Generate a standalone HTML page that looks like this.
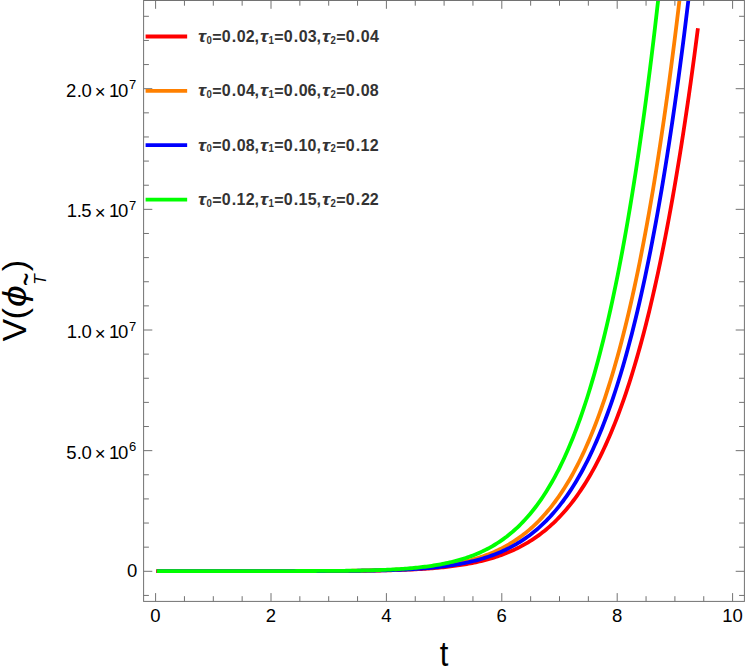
<!DOCTYPE html>
<html><head><meta charset="utf-8"><title>plot</title>
<style>
html,body{margin:0;padding:0;background:#fff;}
body{width:747px;height:667px;overflow:hidden;}
svg{display:block;font-family:"Liberation Sans",sans-serif;}
</style></head><body>
<svg width="747" height="667" viewBox="0 0 747 667">
<rect x="0" y="0" width="747" height="667" fill="#ffffff"/>
<defs><clipPath id="cp"><rect x="143.60" y="0.50" width="600.80" height="600.90"/></clipPath></defs>
<g clip-path="url(#cp)">
<path d="M156.12,571.05 L157.92,571.05 L159.73,571.05 L161.53,571.05 L163.34,571.05 L165.15,571.05 L166.95,571.05 L168.76,571.05 L170.56,571.05 L172.37,571.05 L174.18,571.05 L175.98,571.05 L177.79,571.05 L179.59,571.05 L181.40,571.05 L183.21,571.05 L185.01,571.05 L186.82,571.05 L188.62,571.05 L190.43,571.05 L192.24,571.05 L194.04,571.05 L195.85,571.05 L197.65,571.05 L199.46,571.05 L201.27,571.05 L203.07,571.05 L204.88,571.05 L206.68,571.05 L208.49,571.05 L210.30,571.05 L212.10,571.05 L213.91,571.05 L215.71,571.05 L217.52,571.05 L219.33,571.05 L221.13,571.05 L222.94,571.05 L224.74,571.05 L226.55,571.05 L228.36,571.05 L230.16,571.05 L231.97,571.05 L233.77,571.05 L235.58,571.05 L237.39,571.05 L239.19,571.05 L241.00,571.05 L242.80,571.05 L244.61,571.05 L246.42,571.05 L248.22,571.05 L250.03,571.05 L251.83,571.05 L253.64,571.05 L255.45,571.05 L257.25,571.05 L259.06,571.05 L260.86,571.05 L262.67,571.05 L264.48,571.05 L266.28,571.05 L268.09,571.05 L269.89,571.05 L271.70,571.05 L273.51,571.05 L275.31,571.05 L277.12,571.05 L278.92,571.05 L280.73,571.04 L282.54,571.04 L284.34,571.04 L286.15,571.04 L287.95,571.04 L289.76,571.04 L291.57,571.04 L293.37,571.04 L295.18,571.04 L296.98,571.04 L298.79,571.03 L300.60,571.03 L302.40,571.03 L304.21,571.03 L306.01,571.03 L307.82,571.02 L309.63,571.02 L311.43,571.02 L313.24,571.02 L315.04,571.01 L316.85,571.01 L318.66,571.01 L320.46,571.00 L322.27,571.00 L324.07,570.99 L325.88,570.99 L327.69,570.98 L329.49,570.98 L331.30,570.97 L333.10,570.96 L334.91,570.96 L336.72,570.95 L338.52,570.94 L340.33,570.93 L342.13,570.92 L343.94,570.91 L345.75,570.90 L347.55,570.89 L349.36,570.88 L351.16,570.87 L352.97,570.85 L354.78,570.84 L356.58,570.82 L358.39,570.80 L360.19,570.79 L362.00,570.77 L363.81,570.75 L365.61,570.73 L367.42,570.71 L369.22,570.68 L371.03,570.66 L372.84,570.63 L374.64,570.60 L376.45,570.57 L378.25,570.54 L380.06,570.51 L381.87,570.47 L383.67,570.43 L385.48,570.40 L387.28,570.35 L389.09,570.31 L390.90,570.26 L392.70,570.22 L394.51,570.16 L396.31,570.11 L398.12,570.05 L399.93,569.99 L401.73,569.93 L403.54,569.87 L405.34,569.80 L407.15,569.72 L408.96,569.65 L410.76,569.57 L412.57,569.48 L414.37,569.39 L416.18,569.30 L417.99,569.20 L419.79,569.10 L421.60,569.00 L423.40,568.88 L425.21,568.77 L427.02,568.64 L428.82,568.52 L430.63,568.38 L432.43,568.24 L434.24,568.09 L436.05,567.94 L437.85,567.78 L439.66,567.61 L441.46,567.44 L443.27,567.26 L445.08,567.07 L446.88,566.87 L448.69,566.66 L450.50,566.44 L452.30,566.22 L454.11,565.98 L455.91,565.74 L457.72,565.48 L459.53,565.22 L461.33,564.94 L463.14,564.65 L464.94,564.35 L466.75,564.04 L468.56,563.71 L470.36,563.37 L472.17,563.02 L473.97,562.66 L475.78,562.28 L477.59,561.88 L479.39,561.47 L481.20,561.05 L483.00,560.60 L484.81,560.14 L486.62,559.67 L488.42,559.17 L490.23,558.66 L492.03,558.12 L493.84,557.57 L495.65,557.00 L497.45,556.40 L499.26,555.78 L501.06,555.14 L502.87,554.48 L504.68,553.79 L506.48,553.08 L508.29,552.35 L510.09,551.58 L511.90,550.79 L513.71,549.98 L515.51,549.13 L517.32,548.25 L519.12,547.35 L520.93,546.41 L522.74,545.44 L524.54,544.44 L526.35,543.40 L528.15,542.33 L529.96,541.22 L531.77,540.07 L533.57,538.89 L535.38,537.67 L537.18,536.40 L538.99,535.10 L540.80,533.75 L542.60,532.36 L544.41,530.92 L546.21,529.44 L548.02,527.91 L549.83,526.33 L551.63,524.70 L553.44,523.02 L555.24,521.29 L557.05,519.50 L558.86,517.66 L560.66,515.76 L562.47,513.80 L564.27,511.78 L566.08,509.70 L567.89,507.55 L569.69,505.34 L571.50,503.07 L573.30,500.72 L575.11,498.31 L576.92,495.82 L578.72,493.26 L580.53,490.62 L582.33,487.90 L584.14,485.11 L585.95,482.23 L587.75,479.27 L589.56,476.23 L591.36,473.10 L593.17,469.87 L594.98,466.56 L596.78,463.15 L598.59,459.64 L600.39,456.04 L602.20,452.33 L604.01,448.52 L605.81,444.61 L607.62,440.58 L609.42,436.45 L611.23,432.20 L613.04,427.83 L614.84,423.34 L616.65,418.74 L618.45,414.00 L620.26,409.14 L622.07,404.15 L623.87,399.03 L625.68,393.76 L627.48,388.36 L629.29,382.82 L631.10,377.13 L632.90,371.29 L634.71,365.30 L636.51,359.15 L638.32,352.84 L640.13,346.37 L641.93,339.73 L643.74,332.92 L645.54,325.94 L647.35,318.78 L649.16,311.43 L650.96,303.90 L652.77,296.19 L654.57,288.27 L656.38,280.16 L658.19,271.85 L659.99,263.33 L661.80,254.61 L663.60,245.66 L665.41,236.50 L667.22,227.11 L669.02,217.49 L670.83,207.64 L672.63,197.55 L674.44,187.22 L676.25,176.64 L678.05,165.80 L679.86,154.71 L681.66,143.35 L683.47,131.73 L685.28,119.83 L687.08,107.64 L688.89,95.18 L690.69,82.42 L692.50,69.36 L694.31,56.00 L696.11,42.33 L697.92,28.35" fill="none" stroke="#ff0000" stroke-width="3.8" stroke-linejoin="round"/>
<path d="M156.81,571.05 L158.65,571.05 L160.50,571.05 L162.34,571.05 L164.18,571.05 L166.03,571.05 L167.87,571.05 L169.71,571.05 L171.56,571.05 L173.40,571.05 L175.24,571.05 L177.09,571.05 L178.93,571.05 L180.78,571.05 L182.62,571.05 L184.46,571.05 L186.31,571.05 L188.15,571.05 L189.99,571.05 L191.84,571.05 L193.68,571.05 L195.53,571.05 L197.37,571.05 L199.21,571.05 L201.06,571.05 L202.90,571.05 L204.74,571.05 L206.59,571.05 L208.43,571.05 L210.28,571.05 L212.12,571.05 L213.96,571.05 L215.81,571.05 L217.65,571.05 L219.49,571.05 L221.34,571.05 L223.18,571.05 L225.02,571.05 L226.87,571.05 L228.71,571.05 L230.56,571.05 L232.40,571.05 L234.24,571.05 L236.09,571.05 L237.93,571.05 L239.77,571.05 L241.62,571.05 L243.46,571.05 L245.31,571.05 L247.15,571.05 L248.99,571.05 L250.84,571.05 L252.68,571.05 L254.52,571.05 L256.37,571.05 L258.21,571.05 L260.06,571.05 L261.90,571.05 L263.74,571.05 L265.59,571.05 L267.43,571.05 L269.27,571.05 L271.12,571.05 L272.96,571.04 L274.81,571.04 L276.65,571.04 L278.49,571.04 L280.34,571.04 L282.18,571.04 L284.02,571.04 L285.87,571.04 L287.71,571.04 L289.55,571.04 L291.40,571.03 L293.24,571.03 L295.09,571.03 L296.93,571.03 L298.77,571.03 L300.62,571.02 L302.46,571.02 L304.30,571.02 L306.15,571.02 L307.99,571.01 L309.84,571.01 L311.68,571.00 L313.52,571.00 L315.37,570.99 L317.21,570.99 L319.05,570.98 L320.90,570.98 L322.74,570.97 L324.59,570.96 L326.43,570.96 L328.27,570.95 L330.12,570.94 L331.96,570.93 L333.80,570.92 L335.65,570.91 L337.49,570.90 L339.33,570.89 L341.18,570.87 L343.02,570.86 L344.87,570.84 L346.71,570.83 L348.55,570.81 L350.40,570.79 L352.24,570.77 L354.08,570.75 L355.93,570.73 L357.77,570.70 L359.62,570.68 L361.46,570.65 L363.30,570.62 L365.15,570.59 L366.99,570.56 L368.83,570.53 L370.68,570.49 L372.52,570.45 L374.37,570.41 L376.21,570.37 L378.05,570.32 L379.90,570.27 L381.74,570.22 L383.58,570.17 L385.43,570.11 L387.27,570.05 L389.11,569.99 L390.96,569.92 L392.80,569.85 L394.65,569.77 L396.49,569.70 L398.33,569.61 L400.18,569.53 L402.02,569.43 L403.86,569.34 L405.71,569.24 L407.55,569.13 L409.40,569.02 L411.24,568.90 L413.08,568.77 L414.93,568.64 L416.77,568.51 L418.61,568.37 L420.46,568.22 L422.30,568.06 L424.15,567.89 L425.99,567.72 L427.83,567.54 L429.68,567.35 L431.52,567.15 L433.36,566.95 L435.21,566.73 L437.05,566.50 L438.90,566.26 L440.74,566.02 L442.58,565.76 L444.43,565.49 L446.27,565.21 L448.11,564.91 L449.96,564.60 L451.80,564.28 L453.64,563.95 L455.49,563.60 L457.33,563.23 L459.18,562.85 L461.02,562.46 L462.86,562.05 L464.71,561.62 L466.55,561.17 L468.39,560.71 L470.24,560.22 L472.08,559.72 L473.93,559.20 L475.77,558.65 L477.61,558.08 L479.46,557.50 L481.30,556.88 L483.14,556.25 L484.99,555.59 L486.83,554.90 L488.68,554.19 L490.52,553.45 L492.36,552.68 L494.21,551.88 L496.05,551.06 L497.89,550.20 L499.74,549.31 L501.58,548.39 L503.42,547.43 L505.27,546.44 L507.11,545.41 L508.96,544.35 L510.80,543.24 L512.64,542.10 L514.49,540.92 L516.33,539.69 L518.17,538.42 L520.02,537.11 L521.86,535.75 L523.71,534.34 L525.55,532.89 L527.39,531.39 L529.24,529.83 L531.08,528.22 L532.92,526.56 L534.77,524.84 L536.61,523.06 L538.46,521.23 L540.30,519.33 L542.14,517.37 L543.99,515.34 L545.83,513.25 L547.67,511.10 L549.52,508.87 L551.36,506.57 L553.20,504.19 L555.05,501.75 L556.89,499.22 L558.74,496.61 L560.58,493.92 L562.42,491.15 L564.27,488.29 L566.11,485.34 L567.95,482.30 L569.80,479.17 L571.64,475.94 L573.49,472.61 L575.33,469.18 L577.17,465.65 L579.02,462.01 L580.86,458.26 L582.70,454.40 L584.55,450.43 L586.39,446.34 L588.24,442.12 L590.08,437.79 L591.92,433.33 L593.77,428.74 L595.61,424.01 L597.45,419.15 L599.30,414.15 L601.14,409.01 L602.98,403.72 L604.83,398.28 L606.67,392.69 L608.52,386.94 L610.36,381.03 L612.20,374.96 L614.05,368.72 L615.89,362.30 L617.73,355.71 L619.58,348.94 L621.42,341.98 L623.27,334.84 L625.11,327.50 L626.95,319.96 L628.80,312.22 L630.64,304.27 L632.48,296.11 L634.33,287.74 L636.17,279.14 L638.02,270.32 L639.86,261.27 L641.70,251.97 L643.55,242.44 L645.39,232.66 L647.23,222.63 L649.08,212.34 L650.92,201.78 L652.77,190.96 L654.61,179.86 L656.45,168.48 L658.30,156.81 L660.14,144.85 L661.98,132.59 L663.83,120.02 L665.67,107.14 L667.51,93.94 L669.36,80.41 L671.20,66.55 L673.05,52.35 L674.89,37.81 L676.73,22.91 L678.58,7.65 L680.42,-7.99 L682.26,-23.99 L684.11,-40.38 L685.95,-57.17 L687.80,-74.35 L689.64,-91.94 L691.48,-109.95 L693.33,-128.38 L695.17,-147.25 L697.01,-166.55 L698.86,-186.31 L700.70,-206.53 L702.55,-227.22 L704.39,-248.38 L706.23,-270.03 L708.08,-292.18 L709.92,-314.83" fill="none" stroke="#ff8000" stroke-width="3.8" stroke-linejoin="round"/>
<path d="M156.81,571.05 L158.67,571.05 L160.53,571.05 L162.40,571.05 L164.26,571.05 L166.12,571.05 L167.99,571.05 L169.85,571.05 L171.71,571.05 L173.57,571.05 L175.44,571.05 L177.30,571.05 L179.16,571.05 L181.03,571.05 L182.89,571.05 L184.75,571.05 L186.61,571.05 L188.48,571.05 L190.34,571.05 L192.20,571.05 L194.07,571.05 L195.93,571.05 L197.79,571.05 L199.66,571.05 L201.52,571.05 L203.38,571.05 L205.24,571.05 L207.11,571.05 L208.97,571.05 L210.83,571.05 L212.70,571.05 L214.56,571.05 L216.42,571.05 L218.28,571.05 L220.15,571.05 L222.01,571.05 L223.87,571.05 L225.74,571.05 L227.60,571.05 L229.46,571.05 L231.33,571.05 L233.19,571.05 L235.05,571.05 L236.91,571.05 L238.78,571.05 L240.64,571.05 L242.50,571.05 L244.37,571.05 L246.23,571.05 L248.09,571.05 L249.95,571.05 L251.82,571.05 L253.68,571.05 L255.54,571.05 L257.41,571.05 L259.27,571.05 L261.13,571.05 L263.00,571.05 L264.86,571.05 L266.72,571.05 L268.58,571.05 L270.45,571.05 L272.31,571.05 L274.17,571.05 L276.04,571.05 L277.90,571.04 L279.76,571.04 L281.62,571.04 L283.49,571.04 L285.35,571.04 L287.21,571.04 L289.08,571.04 L290.94,571.04 L292.80,571.04 L294.67,571.03 L296.53,571.03 L298.39,571.03 L300.25,571.03 L302.12,571.03 L303.98,571.02 L305.84,571.02 L307.71,571.02 L309.57,571.02 L311.43,571.01 L313.29,571.01 L315.16,571.00 L317.02,571.00 L318.88,571.00 L320.75,570.99 L322.61,570.99 L324.47,570.98 L326.34,570.97 L328.20,570.97 L330.06,570.96 L331.92,570.95 L333.79,570.94 L335.65,570.93 L337.51,570.92 L339.38,570.91 L341.24,570.90 L343.10,570.89 L344.96,570.88 L346.83,570.86 L348.69,570.85 L350.55,570.83 L352.42,570.82 L354.28,570.80 L356.14,570.78 L358.01,570.76 L359.87,570.74 L361.73,570.71 L363.59,570.69 L365.46,570.66 L367.32,570.63 L369.18,570.60 L371.05,570.57 L372.91,570.54 L374.77,570.51 L376.63,570.47 L378.50,570.43 L380.36,570.39 L382.22,570.34 L384.09,570.30 L385.95,570.25 L387.81,570.19 L389.68,570.14 L391.54,570.08 L393.40,570.02 L395.26,569.95 L397.13,569.88 L398.99,569.81 L400.85,569.74 L402.72,569.66 L404.58,569.57 L406.44,569.48 L408.30,569.39 L410.17,569.29 L412.03,569.19 L413.89,569.08 L415.76,568.96 L417.62,568.84 L419.48,568.72 L421.35,568.59 L423.21,568.45 L425.07,568.30 L426.93,568.15 L428.80,567.99 L430.66,567.82 L432.52,567.65 L434.39,567.46 L436.25,567.27 L438.11,567.07 L439.97,566.86 L441.84,566.64 L443.70,566.41 L445.56,566.17 L447.43,565.92 L449.29,565.66 L451.15,565.38 L453.02,565.10 L454.88,564.80 L456.74,564.49 L458.60,564.16 L460.47,563.82 L462.33,563.47 L464.19,563.10 L466.06,562.72 L467.92,562.32 L469.78,561.90 L471.64,561.47 L473.51,561.02 L475.37,560.55 L477.23,560.06 L479.10,559.55 L480.96,559.03 L482.82,558.48 L484.69,557.90 L486.55,557.31 L488.41,556.69 L490.27,556.05 L492.14,555.39 L494.00,554.69 L495.86,553.98 L497.73,553.23 L499.59,552.46 L501.45,551.65 L503.31,550.82 L505.18,549.95 L507.04,549.06 L508.90,548.13 L510.77,547.17 L512.63,546.17 L514.49,545.13 L516.36,544.06 L518.22,542.95 L520.08,541.80 L521.94,540.61 L523.81,539.38 L525.67,538.10 L527.53,536.78 L529.40,535.41 L531.26,534.00 L533.12,532.53 L534.98,531.02 L536.85,529.46 L538.71,527.84 L540.57,526.17 L542.44,524.44 L544.30,522.65 L546.16,520.80 L548.03,518.90 L549.89,516.93 L551.75,514.89 L553.61,512.79 L555.48,510.62 L557.34,508.39 L559.20,506.07 L561.07,503.69 L562.93,501.23 L564.79,498.69 L566.65,496.07 L568.52,493.37 L570.38,490.58 L572.24,487.71 L574.11,484.75 L575.97,481.70 L577.83,478.55 L579.70,475.30 L581.56,471.96 L583.42,468.52 L585.28,464.97 L587.15,461.32 L589.01,457.56 L590.87,453.68 L592.74,449.69 L594.60,445.58 L596.46,441.36 L598.32,437.00 L600.19,432.53 L602.05,427.92 L603.91,423.17 L605.78,418.30 L607.64,413.28 L609.50,408.12 L611.37,402.81 L613.23,397.35 L615.09,391.74 L616.95,385.97 L618.82,380.04 L620.68,373.94 L622.54,367.68 L624.41,361.24 L626.27,354.63 L628.13,347.83 L629.99,340.85 L631.86,333.68 L633.72,326.31 L635.58,318.75 L637.45,310.98 L639.31,303.01 L641.17,294.82 L643.04,286.42 L644.90,277.80 L646.76,268.94 L648.62,259.86 L650.49,250.54 L652.35,240.97 L654.21,231.16 L656.08,221.09 L657.94,210.77 L659.80,200.18 L661.66,189.31 L663.53,178.18 L665.39,166.76 L667.25,155.05 L669.12,143.05 L670.98,130.75 L672.84,118.13 L674.71,105.21 L676.57,91.97 L678.43,78.39 L680.29,64.49 L682.16,50.24 L684.02,35.65 L685.88,20.69 L687.75,5.38 L689.61,-10.30 L691.47,-26.37 L693.33,-42.81 L695.20,-59.65 L697.06,-76.90 L698.92,-94.55 L700.79,-112.62 L702.65,-131.12 L704.51,-150.05 L706.38,-169.42 L708.24,-189.25 L710.10,-209.54 L711.96,-230.30 L713.83,-251.54 L715.69,-273.27" fill="none" stroke="#0000ff" stroke-width="3.8" stroke-linejoin="round"/>
<path d="M156.81,571.05 L158.59,571.05 L160.38,571.05 L162.17,571.05 L163.95,571.05 L165.74,571.05 L167.52,571.05 L169.31,571.05 L171.10,571.05 L172.88,571.05 L174.67,571.05 L176.45,571.05 L178.24,571.05 L180.03,571.05 L181.81,571.05 L183.60,571.05 L185.38,571.05 L187.17,571.05 L188.96,571.05 L190.74,571.05 L192.53,571.05 L194.31,571.05 L196.10,571.05 L197.89,571.05 L199.67,571.05 L201.46,571.05 L203.24,571.05 L205.03,571.05 L206.82,571.05 L208.60,571.05 L210.39,571.05 L212.17,571.05 L213.96,571.05 L215.75,571.05 L217.53,571.05 L219.32,571.05 L221.10,571.05 L222.89,571.05 L224.68,571.05 L226.46,571.05 L228.25,571.05 L230.03,571.05 L231.82,571.05 L233.61,571.05 L235.39,571.05 L237.18,571.05 L238.96,571.05 L240.75,571.05 L242.54,571.05 L244.32,571.05 L246.11,571.05 L247.89,571.05 L249.68,571.05 L251.47,571.05 L253.25,571.05 L255.04,571.05 L256.82,571.05 L258.61,571.05 L260.40,571.05 L262.18,571.05 L263.97,571.05 L265.75,571.05 L267.54,571.05 L269.33,571.04 L271.11,571.04 L272.90,571.04 L274.68,571.04 L276.47,571.04 L278.26,571.04 L280.04,571.04 L281.83,571.04 L283.61,571.04 L285.40,571.04 L287.19,571.03 L288.97,571.03 L290.76,571.03 L292.54,571.03 L294.33,571.03 L296.12,571.02 L297.90,571.02 L299.69,571.02 L301.47,571.01 L303.26,571.01 L305.05,571.01 L306.83,571.00 L308.62,571.00 L310.40,570.99 L312.19,570.99 L313.98,570.98 L315.76,570.98 L317.55,570.97 L319.33,570.96 L321.12,570.95 L322.91,570.95 L324.69,570.94 L326.48,570.93 L328.26,570.92 L330.05,570.91 L331.84,570.89 L333.62,570.88 L335.41,570.87 L337.19,570.85 L338.98,570.84 L340.77,570.82 L342.55,570.80 L344.34,570.78 L346.12,570.76 L347.91,570.74 L349.70,570.72 L351.48,570.69 L353.27,570.67 L355.05,570.64 L356.84,570.61 L358.63,570.58 L360.41,570.54 L362.20,570.51 L363.98,570.47 L365.77,570.43 L367.56,570.39 L369.34,570.34 L371.13,570.30 L372.91,570.25 L374.70,570.19 L376.49,570.14 L378.27,570.08 L380.06,570.01 L381.84,569.95 L383.63,569.88 L385.42,569.80 L387.20,569.72 L388.99,569.64 L390.77,569.56 L392.56,569.46 L394.35,569.37 L396.13,569.27 L397.92,569.16 L399.70,569.05 L401.49,568.93 L403.28,568.81 L405.06,568.68 L406.85,568.54 L408.63,568.40 L410.42,568.25 L412.21,568.09 L413.99,567.93 L415.78,567.75 L417.56,567.57 L419.35,567.38 L421.14,567.18 L422.92,566.97 L424.71,566.75 L426.49,566.53 L428.28,566.29 L430.07,566.04 L431.85,565.78 L433.64,565.50 L435.42,565.22 L437.21,564.92 L439.00,564.61 L440.78,564.28 L442.57,563.95 L444.35,563.59 L446.14,563.22 L447.93,562.84 L449.71,562.44 L451.50,562.02 L453.29,561.58 L455.07,561.13 L456.86,560.66 L458.64,560.16 L460.43,559.65 L462.22,559.12 L464.00,558.56 L465.79,557.98 L467.57,557.38 L469.36,556.76 L471.15,556.11 L472.93,555.43 L474.72,554.73 L476.50,554.00 L478.29,553.25 L480.08,552.46 L481.86,551.64 L483.65,550.80 L485.43,549.92 L487.22,549.01 L489.01,548.06 L490.79,547.08 L492.58,546.06 L494.36,545.00 L496.15,543.91 L497.94,542.77 L499.72,541.60 L501.51,540.38 L503.29,539.12 L505.08,537.81 L506.87,536.46 L508.65,535.05 L510.44,533.60 L512.22,532.10 L514.01,530.55 L515.80,528.94 L517.58,527.28 L519.37,525.56 L521.15,523.78 L522.94,521.94 L524.73,520.04 L526.51,518.08 L528.30,516.05 L530.08,513.95 L531.87,511.79 L533.66,509.55 L535.44,507.24 L537.23,504.85 L539.01,502.38 L540.80,499.84 L542.59,497.21 L544.37,494.50 L546.16,491.71 L547.94,488.82 L549.73,485.85 L551.52,482.78 L553.30,479.61 L555.09,476.35 L556.87,472.98 L558.66,469.51 L560.45,465.94 L562.23,462.25 L564.02,458.46 L565.80,454.54 L567.59,450.51 L569.38,446.36 L571.16,442.09 L572.95,437.68 L574.73,433.15 L576.52,428.48 L578.31,423.68 L580.09,418.74 L581.88,413.65 L583.66,408.41 L585.45,403.02 L587.24,397.48 L589.02,391.78 L590.81,385.91 L592.59,379.88 L594.38,373.68 L596.17,367.31 L597.95,360.75 L599.74,354.01 L601.52,347.09 L603.31,339.97 L605.10,332.66 L606.88,325.14 L608.67,317.42 L610.45,309.49 L612.24,301.34 L614.03,292.97 L615.81,284.38 L617.60,275.56 L619.38,266.50 L621.17,257.20 L622.96,247.65 L624.74,237.85 L626.53,227.79 L628.31,217.47 L630.10,206.88 L631.89,196.01 L633.67,184.86 L635.46,173.42 L637.24,161.69 L639.03,149.66 L640.82,137.32 L642.60,124.67 L644.39,111.70 L646.17,98.39 L647.96,84.76 L649.75,70.78 L651.53,56.45 L653.32,41.77 L655.10,26.72 L656.89,11.30 L658.68,-4.49 L660.46,-20.68 L662.25,-37.26 L664.03,-54.25 L665.82,-71.65 L667.61,-89.46 L669.39,-107.71 L671.18,-126.40 L672.96,-145.53 L674.75,-165.12 L676.54,-185.18 L678.32,-205.70 L680.11,-226.72 L681.89,-248.23 L683.68,-270.24 L685.47,-292.76 L687.25,-315.81 L689.04,-339.40 L690.82,-363.53 L692.61,-388.21" fill="none" stroke="#00ff00" stroke-width="3.8" stroke-linejoin="round"/>
</g>
<g stroke="#727272" stroke-width="1" fill="none">
<rect x="143.60" y="0.50" width="600.80" height="600.90"/>
<line x1="155.60" y1="601.40" x2="155.60" y2="593.10"/>
<line x1="155.60" y1="0.50" x2="155.60" y2="8.80"/>
<line x1="184.45" y1="601.40" x2="184.45" y2="596.20"/>
<line x1="184.45" y1="0.50" x2="184.45" y2="5.70"/>
<line x1="213.30" y1="601.40" x2="213.30" y2="596.20"/>
<line x1="213.30" y1="0.50" x2="213.30" y2="5.70"/>
<line x1="242.15" y1="601.40" x2="242.15" y2="596.20"/>
<line x1="242.15" y1="0.50" x2="242.15" y2="5.70"/>
<line x1="271.00" y1="601.40" x2="271.00" y2="593.10"/>
<line x1="271.00" y1="0.50" x2="271.00" y2="8.80"/>
<line x1="299.85" y1="601.40" x2="299.85" y2="596.20"/>
<line x1="299.85" y1="0.50" x2="299.85" y2="5.70"/>
<line x1="328.70" y1="601.40" x2="328.70" y2="596.20"/>
<line x1="328.70" y1="0.50" x2="328.70" y2="5.70"/>
<line x1="357.55" y1="601.40" x2="357.55" y2="596.20"/>
<line x1="357.55" y1="0.50" x2="357.55" y2="5.70"/>
<line x1="386.40" y1="601.40" x2="386.40" y2="593.10"/>
<line x1="386.40" y1="0.50" x2="386.40" y2="8.80"/>
<line x1="415.25" y1="601.40" x2="415.25" y2="596.20"/>
<line x1="415.25" y1="0.50" x2="415.25" y2="5.70"/>
<line x1="444.10" y1="601.40" x2="444.10" y2="596.20"/>
<line x1="444.10" y1="0.50" x2="444.10" y2="5.70"/>
<line x1="472.95" y1="601.40" x2="472.95" y2="596.20"/>
<line x1="472.95" y1="0.50" x2="472.95" y2="5.70"/>
<line x1="501.80" y1="601.40" x2="501.80" y2="593.10"/>
<line x1="501.80" y1="0.50" x2="501.80" y2="8.80"/>
<line x1="530.65" y1="601.40" x2="530.65" y2="596.20"/>
<line x1="530.65" y1="0.50" x2="530.65" y2="5.70"/>
<line x1="559.50" y1="601.40" x2="559.50" y2="596.20"/>
<line x1="559.50" y1="0.50" x2="559.50" y2="5.70"/>
<line x1="588.35" y1="601.40" x2="588.35" y2="596.20"/>
<line x1="588.35" y1="0.50" x2="588.35" y2="5.70"/>
<line x1="617.20" y1="601.40" x2="617.20" y2="593.10"/>
<line x1="617.20" y1="0.50" x2="617.20" y2="8.80"/>
<line x1="646.05" y1="601.40" x2="646.05" y2="596.20"/>
<line x1="646.05" y1="0.50" x2="646.05" y2="5.70"/>
<line x1="674.90" y1="601.40" x2="674.90" y2="596.20"/>
<line x1="674.90" y1="0.50" x2="674.90" y2="5.70"/>
<line x1="703.75" y1="601.40" x2="703.75" y2="596.20"/>
<line x1="703.75" y1="0.50" x2="703.75" y2="5.70"/>
<line x1="732.60" y1="601.40" x2="732.60" y2="593.10"/>
<line x1="732.60" y1="0.50" x2="732.60" y2="8.80"/>
<line x1="143.60" y1="595.43" x2="148.90" y2="595.43"/>
<line x1="744.40" y1="595.43" x2="739.10" y2="595.43"/>
<line x1="143.60" y1="571.30" x2="152.30" y2="571.30"/>
<line x1="744.40" y1="571.30" x2="735.70" y2="571.30"/>
<line x1="143.60" y1="547.17" x2="148.90" y2="547.17"/>
<line x1="744.40" y1="547.17" x2="739.10" y2="547.17"/>
<line x1="143.60" y1="523.04" x2="148.90" y2="523.04"/>
<line x1="744.40" y1="523.04" x2="739.10" y2="523.04"/>
<line x1="143.60" y1="498.91" x2="148.90" y2="498.91"/>
<line x1="744.40" y1="498.91" x2="739.10" y2="498.91"/>
<line x1="143.60" y1="474.78" x2="148.90" y2="474.78"/>
<line x1="744.40" y1="474.78" x2="739.10" y2="474.78"/>
<line x1="143.60" y1="450.65" x2="152.30" y2="450.65"/>
<line x1="744.40" y1="450.65" x2="735.70" y2="450.65"/>
<line x1="143.60" y1="426.52" x2="148.90" y2="426.52"/>
<line x1="744.40" y1="426.52" x2="739.10" y2="426.52"/>
<line x1="143.60" y1="402.39" x2="148.90" y2="402.39"/>
<line x1="744.40" y1="402.39" x2="739.10" y2="402.39"/>
<line x1="143.60" y1="378.26" x2="148.90" y2="378.26"/>
<line x1="744.40" y1="378.26" x2="739.10" y2="378.26"/>
<line x1="143.60" y1="354.13" x2="148.90" y2="354.13"/>
<line x1="744.40" y1="354.13" x2="739.10" y2="354.13"/>
<line x1="143.60" y1="330.00" x2="152.30" y2="330.00"/>
<line x1="744.40" y1="330.00" x2="735.70" y2="330.00"/>
<line x1="143.60" y1="305.87" x2="148.90" y2="305.87"/>
<line x1="744.40" y1="305.87" x2="739.10" y2="305.87"/>
<line x1="143.60" y1="281.74" x2="148.90" y2="281.74"/>
<line x1="744.40" y1="281.74" x2="739.10" y2="281.74"/>
<line x1="143.60" y1="257.61" x2="148.90" y2="257.61"/>
<line x1="744.40" y1="257.61" x2="739.10" y2="257.61"/>
<line x1="143.60" y1="233.48" x2="148.90" y2="233.48"/>
<line x1="744.40" y1="233.48" x2="739.10" y2="233.48"/>
<line x1="143.60" y1="209.35" x2="152.30" y2="209.35"/>
<line x1="744.40" y1="209.35" x2="735.70" y2="209.35"/>
<line x1="143.60" y1="185.22" x2="148.90" y2="185.22"/>
<line x1="744.40" y1="185.22" x2="739.10" y2="185.22"/>
<line x1="143.60" y1="161.09" x2="148.90" y2="161.09"/>
<line x1="744.40" y1="161.09" x2="739.10" y2="161.09"/>
<line x1="143.60" y1="136.96" x2="148.90" y2="136.96"/>
<line x1="744.40" y1="136.96" x2="739.10" y2="136.96"/>
<line x1="143.60" y1="112.83" x2="148.90" y2="112.83"/>
<line x1="744.40" y1="112.83" x2="739.10" y2="112.83"/>
<line x1="143.60" y1="88.70" x2="152.30" y2="88.70"/>
<line x1="744.40" y1="88.70" x2="735.70" y2="88.70"/>
<line x1="143.60" y1="64.57" x2="148.90" y2="64.57"/>
<line x1="744.40" y1="64.57" x2="739.10" y2="64.57"/>
<line x1="143.60" y1="40.44" x2="148.90" y2="40.44"/>
<line x1="744.40" y1="40.44" x2="739.10" y2="40.44"/>
<line x1="143.60" y1="16.31" x2="148.90" y2="16.31"/>
<line x1="744.40" y1="16.31" x2="739.10" y2="16.31"/>
</g>
<g fill="#000">
<text x="155.50" y="621.6" text-anchor="middle" font-size="18.5">0</text>
<text x="270.90" y="621.6" text-anchor="middle" font-size="18.5">2</text>
<text x="386.30" y="621.6" text-anchor="middle" font-size="18.5">4</text>
<text x="501.70" y="621.6" text-anchor="middle" font-size="18.5">6</text>
<text x="617.10" y="621.6" text-anchor="middle" font-size="18.5">8</text>
<text x="722.29 732.58" y="621.60" font-size="18.5">10</text>
<text x="132.1" y="576.8" text-anchor="middle" font-size="18.5">0</text>
<text x="66.16 76.81 81.38 94.82 108.96 117.98" y="458.65" font-size="18.5" dy="0.00 0.00 0.00 1.60 -1.60 0.00">5.0×10</text>
<text x="128.94" y="451.15" font-size="13">6</text>
<text x="66.79 76.81 81.38 94.82 108.96 117.98" y="338.00" font-size="18.5" dy="0.00 0.00 0.00 1.60 -1.60 0.00">1.0×10</text>
<text x="128.93" y="330.50" font-size="13">7</text>
<text x="66.79 76.81 81.36 94.82 108.96 117.98" y="217.35" font-size="18.5" dy="0.00 0.00 0.00 1.60 -1.60 0.00">1.5×10</text>
<text x="128.93" y="209.85" font-size="13">7</text>
<text x="65.97 76.81 81.38 94.82 108.96 117.98" y="96.70" font-size="18.5" dy="0.00 0.00 0.00 1.60 -1.60 0.00">2.0×10</text>
<text x="128.93" y="89.20" font-size="13">7</text>
</g>
<g>
<line x1="145.6" y1="36.50" x2="187.15" y2="36.50" stroke="#ff0000" stroke-width="3.8"/>
<g transform="translate(197.90,41.90) scale(1.2,1)"><text x="0" y="0" font-size="16.3" font-weight="bold" font-style="italic" fill="#333333">τ</text></g>
<g transform="translate(206.60,43.70) scale(0.85,1)"><text x="0" y="0" font-size="11.3" font-weight="bold" fill="#333333">0</text></g>
<text x="212.14 221.67 231.81 236.87 245.65 254.51" y="41.90" font-size="16" font-weight="bold" fill="#333333" dy="0.80 -0.80 0.00 0.00 0.00 0.00">=0.02,</text>
<g transform="translate(259.90,41.90) scale(1.2,1)"><text x="0" y="0" font-size="16.3" font-weight="bold" font-style="italic" fill="#333333">τ</text></g>
<g transform="translate(268.60,43.70) scale(0.85,1)"><text x="0" y="0" font-size="11.3" font-weight="bold" fill="#333333">1</text></g>
<text x="274.14 283.67 293.81 298.87 307.83 316.51" y="41.90" font-size="16" font-weight="bold" fill="#333333" dy="0.80 -0.80 0.00 0.00 0.00 0.00">=0.03,</text>
<g transform="translate(321.90,41.90) scale(1.2,1)"><text x="0" y="0" font-size="16.3" font-weight="bold" font-style="italic" fill="#333333">τ</text></g>
<g transform="translate(330.60,43.70) scale(0.85,1)"><text x="0" y="0" font-size="11.3" font-weight="bold" fill="#333333">2</text></g>
<text x="336.14 345.67 355.81 360.87 369.96" y="41.90" font-size="16" font-weight="bold" fill="#333333" dy="0.80 -0.80 0.00 0.00 0.00">=0.04</text>
<line x1="145.6" y1="90.85" x2="187.15" y2="90.85" stroke="#ff8000" stroke-width="3.8"/>
<g transform="translate(197.90,96.25) scale(1.2,1)"><text x="0" y="0" font-size="16.3" font-weight="bold" font-style="italic" fill="#333333">τ</text></g>
<g transform="translate(206.60,98.05) scale(0.85,1)"><text x="0" y="0" font-size="11.3" font-weight="bold" fill="#333333">0</text></g>
<text x="212.14 221.67 231.81 236.87 245.96 254.51" y="96.25" font-size="16" font-weight="bold" fill="#333333" dy="0.80 -0.80 0.00 0.00 0.00 0.00">=0.04,</text>
<g transform="translate(259.90,96.25) scale(1.2,1)"><text x="0" y="0" font-size="16.3" font-weight="bold" font-style="italic" fill="#333333">τ</text></g>
<g transform="translate(268.60,98.05) scale(0.85,1)"><text x="0" y="0" font-size="11.3" font-weight="bold" fill="#333333">1</text></g>
<text x="274.14 283.67 293.81 298.87 307.61 316.51" y="96.25" font-size="16" font-weight="bold" fill="#333333" dy="0.80 -0.80 0.00 0.00 0.00 0.00">=0.06,</text>
<g transform="translate(321.90,96.25) scale(1.2,1)"><text x="0" y="0" font-size="16.3" font-weight="bold" font-style="italic" fill="#333333">τ</text></g>
<g transform="translate(330.60,98.05) scale(0.85,1)"><text x="0" y="0" font-size="11.3" font-weight="bold" fill="#333333">2</text></g>
<text x="336.14 345.67 355.81 360.87 369.69" y="96.25" font-size="16" font-weight="bold" fill="#333333" dy="0.80 -0.80 0.00 0.00 0.00">=0.08</text>
<line x1="145.6" y1="145.20" x2="187.15" y2="145.20" stroke="#0000ff" stroke-width="3.8"/>
<g transform="translate(197.90,150.60) scale(1.2,1)"><text x="0" y="0" font-size="16.3" font-weight="bold" font-style="italic" fill="#333333">τ</text></g>
<g transform="translate(206.60,152.40) scale(0.85,1)"><text x="0" y="0" font-size="11.3" font-weight="bold" fill="#333333">0</text></g>
<text x="212.14 221.67 231.81 236.87 245.69 254.51" y="150.60" font-size="16" font-weight="bold" fill="#333333" dy="0.80 -0.80 0.00 0.00 0.00 0.00">=0.08,</text>
<g transform="translate(259.90,150.60) scale(1.2,1)"><text x="0" y="0" font-size="16.3" font-weight="bold" font-style="italic" fill="#333333">τ</text></g>
<g transform="translate(268.60,152.40) scale(0.85,1)"><text x="0" y="0" font-size="11.3" font-weight="bold" fill="#333333">1</text></g>
<text x="274.14 283.67 293.81 298.49 307.57 316.51" y="150.60" font-size="16" font-weight="bold" fill="#333333" dy="0.80 -0.80 0.00 0.00 0.00 0.00">=0.10,</text>
<g transform="translate(321.90,150.60) scale(1.2,1)"><text x="0" y="0" font-size="16.3" font-weight="bold" font-style="italic" fill="#333333">τ</text></g>
<g transform="translate(330.60,152.40) scale(0.85,1)"><text x="0" y="0" font-size="11.3" font-weight="bold" fill="#333333">2</text></g>
<text x="336.14 345.67 355.81 360.49 369.65" y="150.60" font-size="16" font-weight="bold" fill="#333333" dy="0.80 -0.80 0.00 0.00 0.00">=0.12</text>
<line x1="145.6" y1="199.55" x2="187.15" y2="199.55" stroke="#00ff00" stroke-width="3.8"/>
<g transform="translate(197.90,204.95) scale(1.2,1)"><text x="0" y="0" font-size="16.3" font-weight="bold" font-style="italic" fill="#333333">τ</text></g>
<g transform="translate(206.60,206.75) scale(0.85,1)"><text x="0" y="0" font-size="11.3" font-weight="bold" fill="#333333">0</text></g>
<text x="212.14 221.67 231.81 236.49 245.65 254.51" y="204.95" font-size="16" font-weight="bold" fill="#333333" dy="0.80 -0.80 0.00 0.00 0.00 0.00">=0.12,</text>
<g transform="translate(259.90,204.95) scale(1.2,1)"><text x="0" y="0" font-size="16.3" font-weight="bold" font-style="italic" fill="#333333">τ</text></g>
<g transform="translate(268.60,206.75) scale(0.85,1)"><text x="0" y="0" font-size="11.3" font-weight="bold" fill="#333333">1</text></g>
<text x="274.14 283.67 293.81 298.49 307.71 316.51" y="204.95" font-size="16" font-weight="bold" fill="#333333" dy="0.80 -0.80 0.00 0.00 0.00 0.00">=0.15,</text>
<g transform="translate(321.90,204.95) scale(1.2,1)"><text x="0" y="0" font-size="16.3" font-weight="bold" font-style="italic" fill="#333333">τ</text></g>
<g transform="translate(330.60,206.75) scale(0.85,1)"><text x="0" y="0" font-size="11.3" font-weight="bold" fill="#333333">2</text></g>
<text x="336.14 345.67 355.81 360.95 369.65" y="204.95" font-size="16" font-weight="bold" fill="#333333" dy="0.80 -0.80 0.00 0.00 0.00">=0.22</text>
</g>
<g fill="#000">
<g transform="translate(439.75,665.6) scale(0.86,1)"><text x="0" y="0" font-size="36">t</text></g>
<g transform="translate(25.7,341.7) rotate(-90)"><text x="0.25 22.39" y="0.00" font-size="34">V(</text>
<g transform="translate(35.9,0) scale(1.15,1)"><text x="-1.10" y="0.00" font-size="34" font-style="italic">ϕ</text></g>
<text x="70.40" y="0.00" font-size="34">)</text>
<g transform="translate(56.6,12.5) scale(1,1.6)"><text x="-1" y="0" font-size="22.5">~</text></g>
<text x="56.97" y="20.40" font-size="17" font-style="italic">T</text></g>
</g>
</svg>
</body></html>
